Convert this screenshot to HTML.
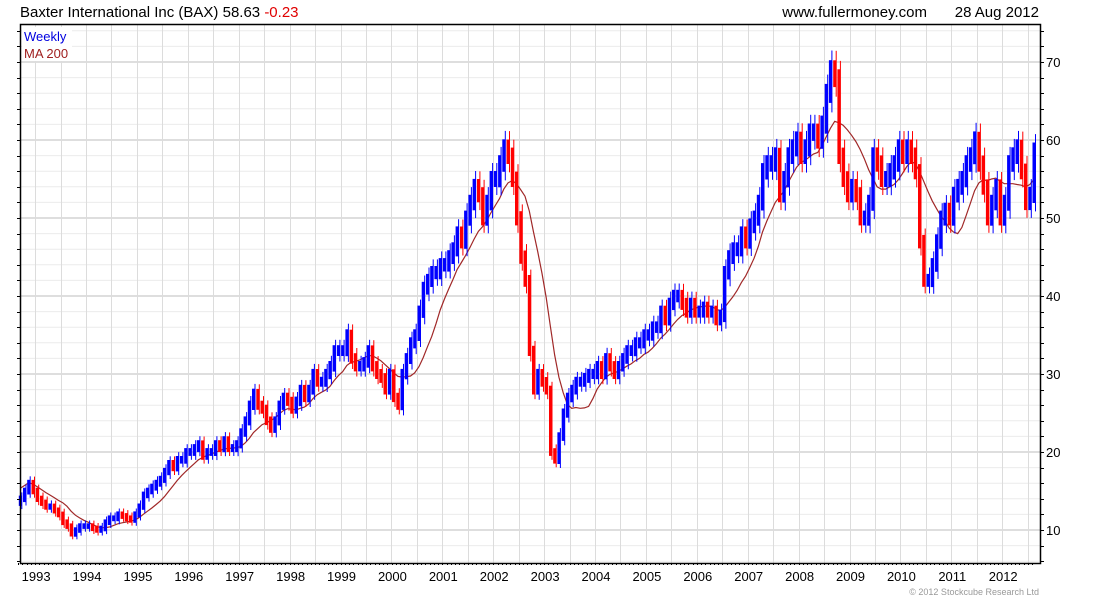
<!DOCTYPE html>
<html><head><meta charset="utf-8"><style>
html,body{margin:0;padding:0;background:#fff;width:1100px;height:600px;overflow:hidden}
svg{display:block;font-family:"Liberation Sans",sans-serif}
</style></head><body>
<svg id="chart" width="1100" height="600" viewBox="0 0 1100 600" xmlns="http://www.w3.org/2000/svg">
<g id="grid"></g>
<g id="ma"></g>
<g id="bars"></g>
<g id="axes"></g>
<text x="20" y="17" font-size="15" fill="#000">Baxter International Inc (BAX) 58.63 <tspan fill="#e00000">-0.23</tspan></text>
<text x="927" y="17" font-size="15" text-anchor="end" fill="#000">www.fullermoney.com</text>
<text x="1039" y="17" font-size="15" text-anchor="end" fill="#000">28 Aug 2012</text>
<rect x="22" y="27" width="50" height="34" fill="#fff"/>
<text x="24" y="41" font-size="13" fill="#0000e0">Weekly</text>
<text x="24" y="58" font-size="13" fill="#a02020">MA 200</text>
<text x="1039" y="595" font-size="9" text-anchor="end" fill="#999">© 2012 Stockcube Research Ltd</text>
</svg>
<script>
// monthly closes, Sep 1992 .. Aug 2012
const closes = [
14,15,16,15,
14,13.5,13,13,12.5,12,11,10.5,9.5,10,10.5,10.5,
10.5,10.2,10,10.2,11,11.5,11.5,12,11.8,11.5,11.3,12,
13,14.5,15,15.5,16,16.5,17.5,18.5,18,19,19,20,
20,20.5,21,19.5,20,20,21,20.5,21.5,20.5,20.5,21,
22.5,24,26,27.5,26,25.5,24,23,24,26,27,26.5,
25.5,26.5,28,27,28,30,29,29,30,31,33,33,
33,35,32,31,31,31.5,33,31,30,29.5,28,30,
27,26,30,32,34,35,38,41,42,43,43,44,
44,45,46,48,47,50,52,54,53,50,52,55,
55,57,59,58,55,50,45,42,33,28,30,29,
28,20,19,22,25,27,28,29,29,29.5,30,30,
31,30,32,31,30,31,32,33,33,34,34,35,
35,36,36,38,37,39,40,40,39,38,39,38,
38,38.5,38,38,37,37.5,43,45,46,46,48,47,
49,50,52,56,57,57,58,53,55,58,59,60,
58,59,61,61,60,62,66,69,68,58,55,53,
54,53,50,50,52,58,57,55,55,56,57,59,
58,59,58,56,47,42,42,44,47,50,51,50,
53,54,55,57,58,60,57,54,50,52,54,50,
52,57,58,59,56,52,53,58.6
];
const yTicks = [10,20,30,40,50,60,70];
const yearLabels = ["1993","1994","1995","1996","1997","1998","1999","2000","2001","2002","2003","2004","2005","2006","2007","2008","2009","2010","2011","2012"];

const NS="http://www.w3.org/2000/svg";
const L=20,R=1040,T=24,B=563;
function yS(v){return 530-(v-10)*7.8;}
function xT(t){return 86+(t-1994)*50.9;}
function xM(i){return xT(1992+(8+i+0.5)/12);}
function mk(tag,attrs,parent){const e=document.createElementNS(NS,tag);for(const k in attrs)e.setAttribute(k,attrs[k]);parent.appendChild(e);return e;}

const grid=document.getElementById('grid');
for(let v=6;v<=74;v+=2){
  const y=yS(v);if(y<T||y>B)continue;
  const l=mk('line',{x1:L,x2:R,y1:y,y2:y,stroke:v%10===0?'#bdbdbd':'#ececec','stroke-width':1},grid);
  
  
}
for(let t=1993;t<=2012.5;t+=0.5){
  const x=Math.round(xT(t))+0.5;
  const l=mk('line',{x1:x,x2:x,y1:T,y2:B,stroke:'#dcdcdc','stroke-width':1},grid);
  
  
}

const ma=document.getElementById('ma');
let pts=[];
for(let i=0;i<closes.length;i++){
  const s=Math.max(0,i-9);let sum=0;for(let j=s;j<=i;j++)sum+=closes[j];
  const avg=sum/(i-s+1)+(i<9?(9-i)*0.15:0);
  pts.push(xM(i).toFixed(1)+','+yS(avg).toFixed(1));
}
const mal=mk('polyline',{points:pts.join(' '),fill:'none',stroke:'#a02828','stroke-width':1.2},ma);



const bars=document.getElementById('bars');
for(let i=0;i<closes.length;i++){
  const c=closes[i],p=i>0?closes[i-1]:c-0.5;
  const w=c*0.015+0.2;
  const hi=Math.max(c,p)+w,lo=Math.min(c,p)-w;
  const col=c>=p?'#0000ff':'#ff0000';
  const x=xM(i);
  const r=mk('rect',{x:(x-1.5).toFixed(1),y:yS(hi).toFixed(1),width:3,height:(yS(lo)-yS(hi)).toFixed(1),fill:col},bars);
  
  
  const r2=mk('rect',{x:(x+1).toFixed(1),y:yS(hi+w).toFixed(1),width:1,height:(yS(lo-w)-yS(hi+w)).toFixed(1),fill:col},bars);
  
  
}

const axes=document.getElementById('axes');
const frame=mk('path',{d:`M${L+0.5},${T+0.5}H${R+0.5}V${B+0.5}H${L+0.5}Z`,fill:'none',stroke:'#000','stroke-width':1.5},axes);


for(let v=6;v<=74;v+=2){
  const y=Math.round(yS(v))+0.5;if(y<T||y>B)continue;
  const a=mk('line',{x1:R,x2:R+4,y1:y,y2:y,stroke:'#000'},axes);
  
  
  const b=mk('line',{x1:L-3,x2:L,y1:y,y2:y,stroke:'#000'},axes);
  
  
}
yTicks.forEach(v=>{
  const t=mk('text',{x:R+6,y:yS(v)+5,'font-size':13,fill:'#000'},axes);
  t.textContent=v;
  
  
});
for(let i=0;i<240;i++){
  const x=Math.round(xM(i)-2)+0.5;
  const m=mk('line',{x1:x,x2:x,y1:B,y2:B+2,stroke:'#000'},axes);
  
  
}
yearLabels.forEach((lab,k)=>{
  const t=mk('text',{x:xT(1993+k)+1,y:581,'font-size':13,'text-anchor':'middle',fill:'#000'},axes);
  t.textContent=lab;
  
  
});
</script>
</body></html>
